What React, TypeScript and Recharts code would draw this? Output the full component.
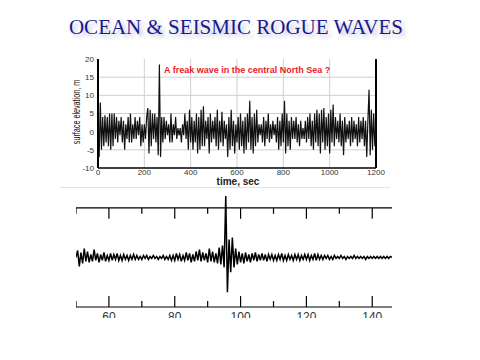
import { LineChart, Line, XAxis, YAxis, ReferenceLine } from 'recharts';

// ocean record: surface elevation (m), one reading every 5 s from 0 to 1200 s
const oceanElevation = [
  0, -7, 8, -5, 4, -4, 4.5, -3, 4, -4, 5, -5, 5, -4, 5, -2, 4, -3, 3, -1,
  4, -3, 3, -5, 2, -2, 4, -3, 5, -3, 2, -2, 4, -2, 3, -1, 4, -4, 2, -3,
  2, -2, 4, 6.5, -6, 6, -4, 5, -2, 5, -3, 4, -6.5, 18.5, -7, 4, -3, 4, -2, 3,
  -1, 2, -3, 5, -3, 2, -1, 4, -2, 1, -1, 1, -3, 2, -1, 5, -2, 3, -5, 6,
  -3, 4, -5, 3, -3, 5, -6, 4, -5, 6, -4, 7, -4, 3, -2, 4, -6, 5, -3, 3,
  -2, 4, -4, 6, -5, 3, -3, 5.5, -4, 3, -2, 2, -7, 4, -5, 6, -4, 3, -6, 2,
  -3, 4, -5, 5, -4, 3, -6, 4, -5, 5, -3, 8.5, -5, 4, -6, 5, -4, 6, -3, 2,
  -1, 2, -3, 4, -4, 3, -2, 5, -3, 2, -2, 3, -1, 2, -3, 4, -5, 3, -4, 5,
  -3, 8.5, -6, 5, -4, 3, -5, 4, -2, 3, -2, 4, -3, 2, -4, 3, -2, 1, -2, 3,
  -3, 4, -2, 5, -4, 3, -5, 5, -3, 6, -4, 5, -6, 6, -3, 6.5, -5, 4, -4, 5,
  -6, 6, -3, 7.5, -4, 4, -2, 3, -3, 5, -4, 3, -6.5, 4, -3, 2, -2, 3, -4, 4,
  -3, 3, -2, 2, -4, 4, -3, 3, -2, 4, -4, 3, -7, 3, 11.5, -6.5, 6, -5, 5, -4,
  2,
];
const oceanStep = 5;
const oceanXTicks = [0, 200, 400, 600, 800, 1000, 1200];
const oceanYTicks = [-10, -5, 0, 5, 10, 15, 20];
const oceanGridX = [200, 400, 600, 800, 1000];
const oceanGridY = [-5, 0, 5, 10, 15];

// seismic record: relative amplitude, one reading every 0.5 s from 50 to 146 s
const seismicAmplitude = [
  0, 7, -9, 5, -6, 9, -4, 6, -5, 3, -4, 8, -3, 4, -5, 3, -3, 5, -4, 2,
  -3, 4, -3, 3, -2, 4, -3, 2, -3, 3, -2, 2, -3, 2, -2, 3, -2, 2, -2, 1,
  -2, 2, -1, 2, -2, 1, -1, 2, -1, 1, -2, 1, -1, 2, -2, 1, -2, 2, -3, 2,
  -3, 4, -2, 3, -4, 2, -3, 5, -3, 4, -5, 3, -4, 6, -3, 8, -4, 5, -3, 4,
  -5, 9, -4, 6, -5, 4, -6, 10, -7, 12, -10, 62, -35, 18, -15, 20, -10, 9, -7, 6,
  -5, 4, -6, 5, -4, 3, -5, 4, -3, 5, -4, 3, -3, 4, -3, 3, -4, 3, -2, 3,
  -3, 2, -3, 3, -2, 4, -3, 2, -3, 3, -2, 2, -3, 3, -2, 3, -3, 2, -2, 3,
  -2, 3, -3, 2, -2, 4, -3, 3, -2, 2, -2, 2, -1, 2, -2, 1, -2, 2, -1, 1,
  -1, 2, -1, 1, -2, 1, -1, 1, -1, 2, -1, 1, -1, 1, -1, 1, -2, 1, -1, 1,
  -1, 1, -1, 1, -1, 1, -1, 1, -1, 1, -1, 1, 0,
];
const seismicStart = 50;
const seismicStep = 0.5;
const seismicMajor = [60, 80, 100, 120, 140];
const seismicMinor = [50, 70, 90, 110, 130];

const oceanData = oceanElevation.map((v, i) => ({ t: i * oceanStep, v }));
const seismicData = seismicAmplitude.map((v, i) => ({ t: seismicStart + i * seismicStep, v }));

const sans = '"Liberation Sans", Arial, sans-serif';

export default function App() {
  return (
    <div style={{ position: 'absolute', left: 0, top: 0, width: 480, height: 360, background: '#fff', overflow: 'hidden' }}>
      <div
        style={{
          position: 'absolute', left: 0, top: 15, width: 472, textAlign: 'center',
          fontFamily: '"Liberation Serif", "Times New Roman", serif', fontSize: 21,
          color: '#1a1a8e', textShadow: '3px 3px 4px #b8bcd8', whiteSpace: 'nowrap',
        }}
      >
        OCEAN &amp; SEISMIC ROGUE WAVES
      </div>

      {/* ocean wave record */}
      <div style={{ position: 'absolute', left: 60, top: 50 }}>
        <LineChart width={330} height={135} data={oceanData} margin={{ top: 9, right: 14, left: 0, bottom: 0 }}>
          {oceanGridX.map(x => <ReferenceLine key={'gx' + x} x={x} stroke="#cfcfcf" />)}
          {oceanGridY.map(y => <ReferenceLine key={'gy' + y} y={y} stroke="#cfcfcf" />)}
          <XAxis
            dataKey="t" type="number" domain={[0, 1200]} ticks={oceanXTicks}
            tickLine={false} tickSize={0} tickMargin={1} height={17}
            axisLine={{ stroke: '#000', strokeWidth: 1.5 }}
            tick={{ fontSize: 8, fill: '#333', fontFamily: sans }}
          />
          <YAxis
            type="number" domain={[-10, 20]} ticks={oceanYTicks} width={38}
            tickLine={false} tickSize={0} tickMargin={4}
            axisLine={{ stroke: '#000', strokeWidth: 2 }}
            tick={{ fontSize: 8, fill: '#333', fontFamily: sans }}
          />
          <ReferenceLine x={1200} stroke="#000" strokeWidth={2} />
          <Line dataKey="v" type="linear" stroke="#111" strokeWidth={1.2} dot={false} isAnimationActive={false} />
        </LineChart>
      </div>
      <div style={{ position: 'absolute', left: 80, top: 48, width: 20, height: 9, background: '#fff' }} />
      <div
        style={{
          position: 'absolute', left: 164, top: 70, fontFamily: sans, fontSize: 9, fontWeight: 'bold',
          color: '#e8202a', whiteSpace: 'nowrap', transform: 'translateY(-50%)',
        }}
      >
        A freak wave in the central North Sea ?
      </div>
      <div
        style={{
          position: 'absolute', left: 76, top: 112, fontFamily: sans, fontSize: 10, color: '#111',
          whiteSpace: 'nowrap', transform: 'translate(-50%, -50%) rotate(-90deg) scaleX(0.72)',
        }}
      >
        surface elevation, m
      </div>
      <div
        style={{
          position: 'absolute', left: 238, top: 181, fontFamily: sans, fontSize: 10, fontWeight: 'bold',
          color: '#222', whiteSpace: 'nowrap', transform: 'translate(-50%, -50%)',
        }}
      >
        time, sec
      </div>
      <div style={{ position: 'absolute', left: 60, top: 187, width: 330, height: 1, background: '#e2e2e2' }} />

      {/* seismic record */}
      <div style={{ position: 'absolute', left: 76, top: 196 }}>
        <LineChart width={316} height={130} data={seismicData} margin={{ top: 0, right: 0, left: 0, bottom: 0 }}>
          <XAxis
            dataKey="t" type="number" domain={[50, 146]} ticks={seismicMajor}
            tickLine={false} tickSize={0} tickMargin={5} height={19}
            axisLine={{ stroke: '#000', strokeWidth: 1.2 }}
            tick={{ fontSize: 12, fill: '#333', fontFamily: sans }}
          />
          <YAxis hide type="number" domain={[-50, 62]} />
          <ReferenceLine y={50} stroke="#000" strokeWidth={1.2} />
          {seismicMajor.map(x => (
            <ReferenceLine key={'mt' + x} segment={[{ x, y: 50 }, { x, y: 39 }]} stroke="#000" strokeWidth={1.2} />
          ))}
          {seismicMinor.map(x => (
            <ReferenceLine key={'nt' + x} segment={[{ x, y: 50 }, { x, y: 44 }]} stroke="#000" strokeWidth={1.2} />
          ))}
          {seismicMajor.map(x => (
            <ReferenceLine key={'mb' + x} segment={[{ x, y: -50 }, { x, y: -39 }]} stroke="#000" strokeWidth={1.2} />
          ))}
          {seismicMinor.map(x => (
            <ReferenceLine key={'nb' + x} segment={[{ x, y: -50 }, { x, y: -44 }]} stroke="#000" strokeWidth={1.2} />
          ))}
          <Line dataKey="v" type="linear" stroke="#000" strokeWidth={1.5} dot={false} isAnimationActive={false} />
        </LineChart>
      </div>
      <div style={{ position: 'absolute', left: 0, top: 318, width: 480, height: 42, background: '#fff' }} />
    </div>
  );
}
